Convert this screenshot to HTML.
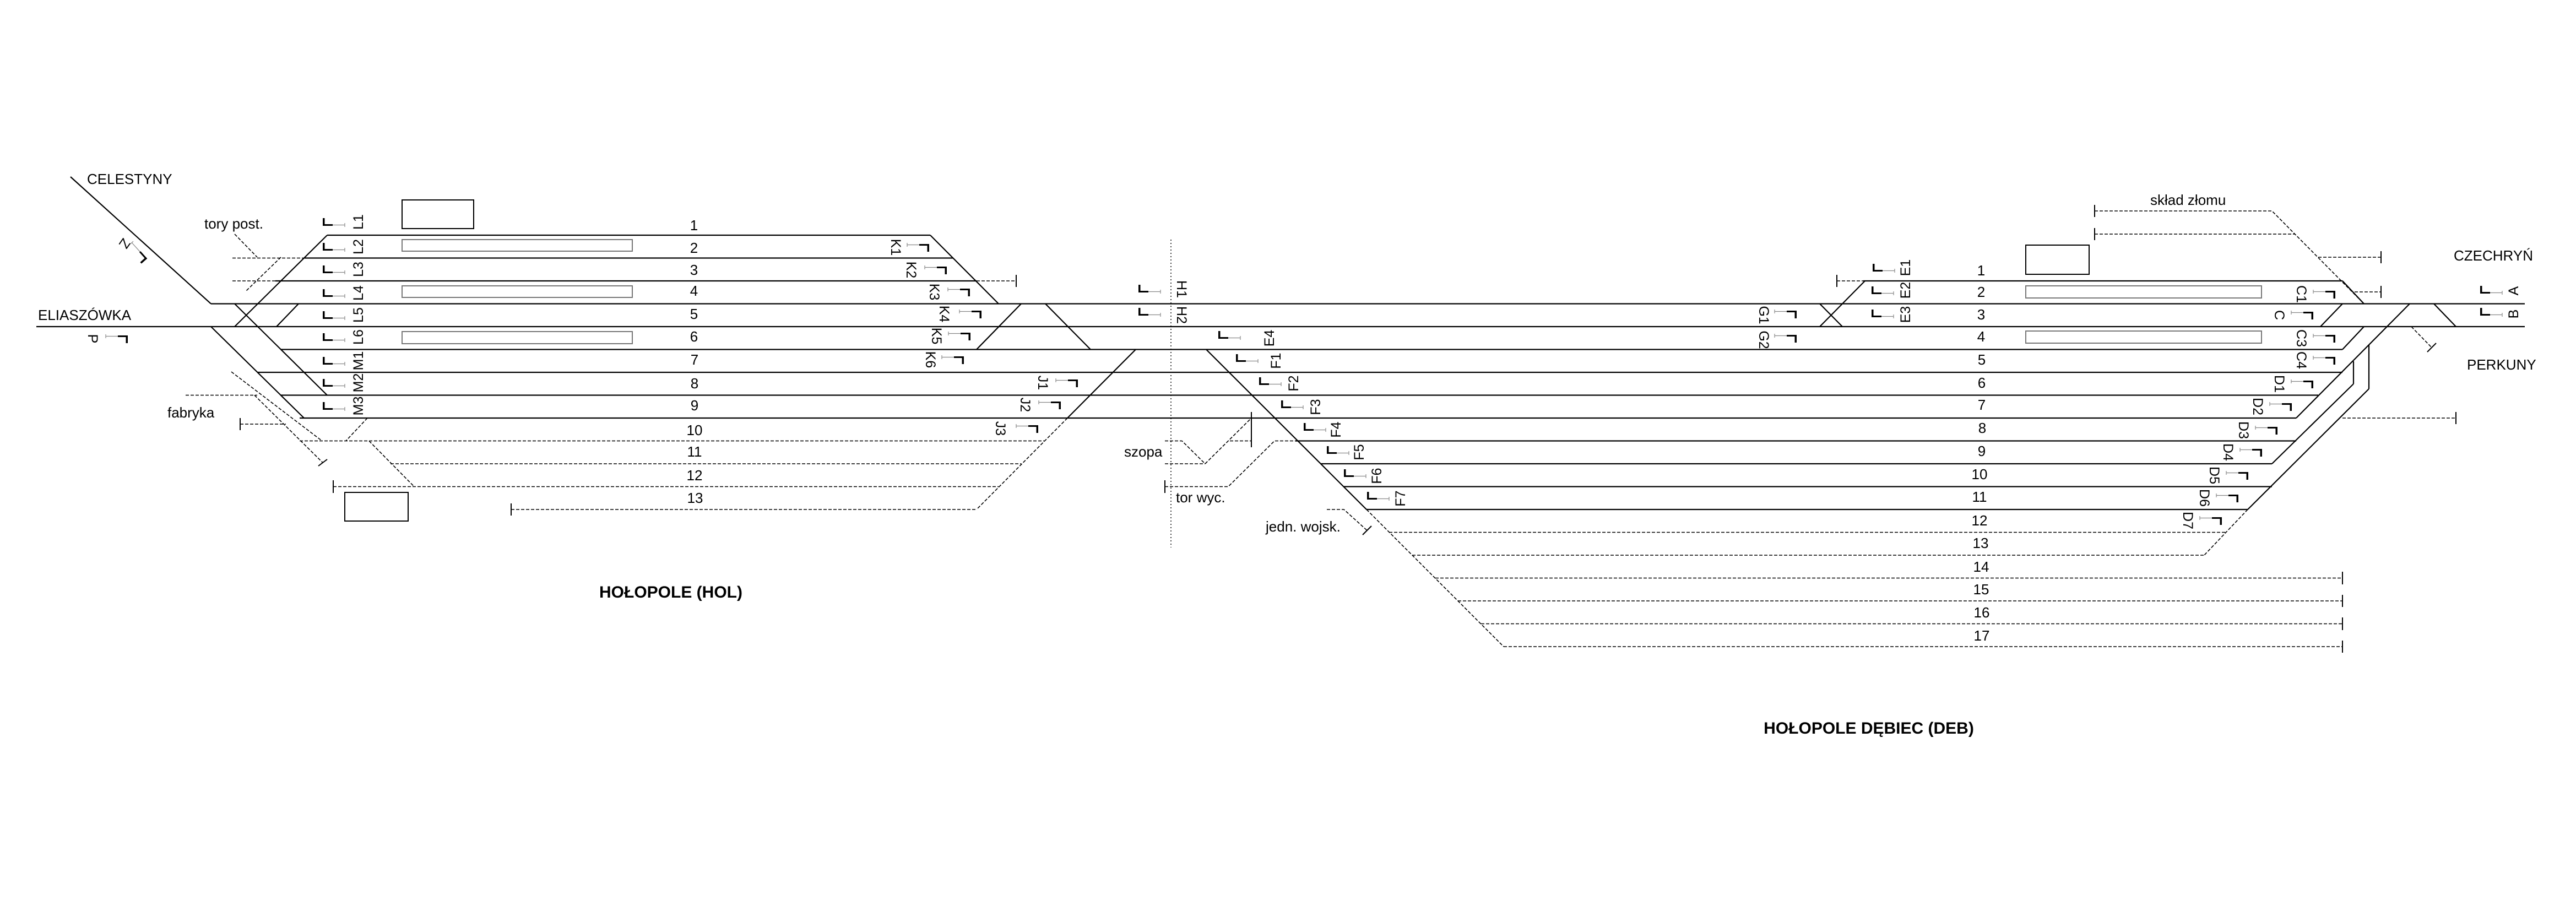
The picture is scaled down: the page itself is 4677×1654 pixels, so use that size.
<!DOCTYPE html>
<html><head><meta charset="utf-8"><style>
html,body{margin:0;padding:0;background:#fff;}
svg{display:block;}
text{font-family:"Liberation Sans",sans-serif;fill:#000;}
</style></head><body>
<svg width="4677" height="1654" viewBox="0 0 4677 1654" xmlns="http://www.w3.org/2000/svg">
<defs>
<g id="sl"><rect x="0" y="-7" width="3.5" height="14" fill="#000"/><rect x="0" y="4" width="18" height="3" fill="#000"/><line x1="18" y1="5.5" x2="40" y2="5.5" stroke="#888" stroke-width="1.2"/><line x1="40" y1="2" x2="40" y2="9" stroke="#888" stroke-width="1.2"/></g>
<g id="sr"><line x1="0" y1="-8" x2="0" y2="-1" stroke="#888" stroke-width="1.2"/><line x1="0" y1="-4.5" x2="22" y2="-4.5" stroke="#888" stroke-width="1.2"/><rect x="22" y="-6" width="18" height="3" fill="#000"/><rect x="36.5" y="-6" width="3.5" height="14" fill="#000"/></g>
</defs>

<!-- solid tracks -->
<g stroke="#000" stroke-width="2.2" fill="none">
<line x1="594" y1="427" x2="1689" y2="427"/>
<line x1="553" y1="468.5" x2="1730" y2="468.5"/>
<line x1="500" y1="510" x2="1773" y2="510"/>
<line x1="383" y1="551.5" x2="4584" y2="551.5"/>
<line x1="66" y1="593" x2="4584" y2="593"/>
<line x1="510" y1="634.5" x2="4253" y2="634.5"/>
<line x1="467" y1="676" x2="4253" y2="676"/>
<line x1="510" y1="717.5" x2="4209" y2="717.5"/>
<line x1="544" y1="759" x2="4169" y2="759"/>
<line x1="2352" y1="800.5" x2="4169" y2="800.5"/>
<line x1="2398" y1="842" x2="4125" y2="842"/>
<line x1="2440" y1="883.5" x2="4125" y2="883.5"/>
<line x1="2481" y1="925" x2="4081" y2="925"/>
<line x1="3383" y1="510" x2="4253" y2="510"/>
<!-- left diagonals -->
<line x1="128" y1="321" x2="383" y2="551.5"/>
<line x1="426" y1="593" x2="594" y2="427"/>
<line x1="426" y1="551.5" x2="594" y2="717.5"/>
<line x1="383" y1="593" x2="552" y2="759"/>
<line x1="502" y1="593" x2="542" y2="551.5"/>
<!-- HOL right throat -->
<line x1="1689" y1="427" x2="1813" y2="551.5"/>
<line x1="1854" y1="551.5" x2="1773" y2="634.5"/>
<line x1="1898" y1="551.5" x2="1980" y2="634.5"/>
<line x1="2062" y1="634.5" x2="1938" y2="759"/>
<!-- DEB left -->
<line x1="2190" y1="634.5" x2="2481" y2="925"/>
<line x1="3386" y1="510" x2="3304" y2="593"/>
<line x1="3304" y1="551.5" x2="3345" y2="593"/>
<!-- DEB right -->
<line x1="4253" y1="510" x2="4292" y2="551.5"/>
<line x1="4253" y1="551.5" x2="4213" y2="593"/>
<line x1="4253" y1="634.5" x2="4292" y2="593"/>
<line x1="4375" y1="551.5" x2="4169" y2="759"/>
<line x1="4273" y1="656" x2="4273" y2="697"/>
<line x1="4273" y1="697" x2="4125" y2="842"/>
<line x1="4301" y1="626" x2="4301" y2="706"/>
<line x1="4301" y1="706" x2="4081" y2="925"/>
<line x1="4419" y1="551.5" x2="4459" y2="593"/>
</g>

<!-- dashed -->
<g stroke="#000" stroke-width="1.6" fill="none" stroke-dasharray="6 3">
<line x1="422" y1="468.5" x2="553" y2="468.5"/>
<line x1="422" y1="510" x2="500" y2="510"/>
<line x1="1773" y1="510" x2="1845" y2="510"/>
<line x1="426" y1="425" x2="467" y2="467"/>
<line x1="510" y1="467" x2="446" y2="529"/>
<line x1="420" y1="675" x2="584" y2="800"/>
<line x1="337" y1="717.5" x2="467" y2="717.5"/>
<line x1="436" y1="770" x2="519" y2="770"/>
<line x1="462" y1="717.5" x2="586" y2="840"/>
<line x1="544" y1="800.5" x2="1896" y2="800.5"/>
<line x1="709" y1="842" x2="1854" y2="842"/>
<line x1="605" y1="883.5" x2="1813" y2="883.5"/>
<line x1="928" y1="925" x2="1773" y2="925"/>
<line x1="667" y1="759" x2="628" y2="800.5"/>
<line x1="670" y1="800.5" x2="752" y2="883.5"/>
<line x1="1938" y1="759" x2="1773" y2="925"/>
<!-- szopa / tor wyc -->
<polyline points="2115,800.5 2146,800.5 2188,842"/>
<line x1="2115" y1="842" x2="2188" y2="842"/>
<line x1="2188" y1="842" x2="2272" y2="759"/>
<line x1="2233" y1="800.5" x2="2272" y2="800.5"/>
<polyline points="2115,883.5 2230,883.5 2314,800.5 2352,800.5"/>
<polyline points="2409,925 2440,925 2482,963"/>
<line x1="2481" y1="925" x2="2730" y2="1174"/>
<line x1="2522" y1="966.5" x2="4042" y2="966.5"/>
<line x1="2564" y1="1008" x2="4002" y2="1008"/>
<line x1="2606" y1="1049.5" x2="4253" y2="1049.5"/>
<line x1="2647" y1="1091" x2="4253" y2="1091"/>
<line x1="2689" y1="1132.5" x2="4253" y2="1132.5"/>
<line x1="2730" y1="1174" x2="4253" y2="1174"/>
<line x1="4081" y1="925" x2="4002" y2="1008"/>
<line x1="3335" y1="510" x2="3383" y2="510"/>
<polyline points="3803,383 4125,383 4292,551.5"/>
<line x1="3803" y1="425" x2="4167" y2="425"/>
<line x1="4209" y1="467" x2="4323" y2="467"/>
<line x1="4275" y1="530" x2="4323" y2="530"/>
<line x1="4253" y1="759" x2="4459" y2="759"/>
<line x1="4378" y1="593" x2="4415" y2="631"/>
</g>
<line x1="2126" y1="435" x2="2126" y2="994" stroke="#000" stroke-width="1.5" stroke-dasharray="2 4"/>

<!-- bumpers -->
<g stroke="#000" stroke-width="2">
<line x1="1845" y1="499" x2="1845" y2="521"/>
<line x1="436" y1="759" x2="436" y2="781"/>
<line x1="578" y1="846" x2="594" y2="834"/>
<line x1="605" y1="872" x2="605" y2="895"/>
<line x1="928" y1="914" x2="928" y2="936"/>
<line x1="2115" y1="872" x2="2115" y2="895"/>
<line x1="2272" y1="748" x2="2272" y2="812"/>
<line x1="2474" y1="971" x2="2490" y2="955"/>
<line x1="3335" y1="499" x2="3335" y2="521"/>
<line x1="3803" y1="372" x2="3803" y2="394"/>
<line x1="3803" y1="414" x2="3803" y2="436"/>
<line x1="4323" y1="456" x2="4323" y2="478"/>
<line x1="4323" y1="519" x2="4323" y2="541"/>
<line x1="4459" y1="748" x2="4459" y2="770"/>
<line x1="4407" y1="639" x2="4423" y2="623"/>
<line x1="4253" y1="1038" x2="4253" y2="1061"/>
<line x1="4253" y1="1080" x2="4253" y2="1102"/>
<line x1="4253" y1="1121" x2="4253" y2="1144"/>
<line x1="4253" y1="1163" x2="4253" y2="1185"/>
</g>

<!-- buildings & platforms -->
<g fill="none">
<rect x="730" y="363" width="130" height="52" stroke="#000" stroke-width="2"/>
<rect x="626" y="894" width="115" height="52" stroke="#000" stroke-width="2"/>
<rect x="3678" y="445" width="115" height="53" stroke="#000" stroke-width="2"/>
<rect x="730" y="435" width="418" height="21" stroke="#777" stroke-width="2"/>
<rect x="730" y="519" width="418" height="21" stroke="#777" stroke-width="2"/>
<rect x="730" y="602" width="418" height="22" stroke="#777" stroke-width="2"/>
<rect x="3678" y="519" width="428" height="22" stroke="#777" stroke-width="2"/>
<rect x="3678" y="601" width="428" height="22" stroke="#777" stroke-width="2"/>
</g>

<!-- signals -->
<use href="#sl" x="586" y="403"/><use href="#sl" x="586" y="448"/><use href="#sl" x="586" y="489"/>
<use href="#sl" x="586" y="532"/><use href="#sl" x="586" y="572"/><use href="#sl" x="586" y="612"/>
<use href="#sl" x="586" y="655"/><use href="#sl" x="586" y="695"/><use href="#sl" x="586" y="737"/>
<use href="#sr" x="192" y="615"/>
<use href="#sr" x="1647" y="449"/><use href="#sr" x="1679" y="490"/><use href="#sr" x="1721" y="530"/>
<use href="#sr" x="1742" y="570"/><use href="#sr" x="1722" y="610"/><use href="#sr" x="1710" y="653"/>
<use href="#sr" x="1917" y="695"/><use href="#sr" x="1886" y="735"/><use href="#sr" x="1845" y="778"/>
<use href="#sl" x="2067" y="524"/><use href="#sl" x="2067" y="566"/>
<use href="#sl" x="2212" y="608"/><use href="#sl" x="2244" y="650"/><use href="#sl" x="2286" y="692"/>
<use href="#sl" x="2326" y="734"/><use href="#sl" x="2367" y="775"/><use href="#sl" x="2409" y="817"/>
<use href="#sl" x="2440" y="859"/><use href="#sl" x="2482" y="900"/>
<use href="#sr" x="3222" y="570"/><use href="#sr" x="3222" y="614"/>
<use href="#sl" x="3400" y="486"/><use href="#sl" x="3398" y="527"/><use href="#sl" x="3398" y="569"/>
<use href="#sr" x="4200" y="534"/><use href="#sr" x="4160" y="572"/><use href="#sr" x="4200" y="614"/>
<use href="#sr" x="4200" y="654"/><use href="#sr" x="4160" y="697"/><use href="#sr" x="4121" y="738"/>
<use href="#sr" x="4095" y="781"/><use href="#sr" x="4067" y="821"/><use href="#sr" x="4042" y="863"/>
<use href="#sr" x="4024" y="904"/><use href="#sr" x="3994" y="945"/>
<use href="#sl" x="4503" y="526"/><use href="#sl" x="4503" y="566"/>
<use href="#sl" x="0" y="0" transform="translate(262,474) rotate(-132)"/>

<!-- rotated labels -->
<g font-size="25" text-anchor="middle" dominant-baseline="central">
<text transform="translate(651,403) rotate(-90)">L1</text>
<text transform="translate(651,448) rotate(-90)">L2</text>
<text transform="translate(651,489) rotate(-90)">L3</text>
<text transform="translate(651,532) rotate(-90)">L4</text>
<text transform="translate(651,572) rotate(-90)">L5</text>
<text transform="translate(651,612) rotate(-90)">L6</text>
<text transform="translate(651,655) rotate(-90)">M1</text>
<text transform="translate(651,695) rotate(-90)">M2</text>
<text transform="translate(651,737) rotate(-90)">M3</text>
<text transform="translate(168,615) rotate(90)">P</text>
<text transform="translate(226,442) rotate(125)">Z</text>
<text transform="translate(1626,449) rotate(90)">K1</text>
<text transform="translate(1654,490) rotate(90)">K2</text>
<text transform="translate(1696,530) rotate(90)">K3</text>
<text transform="translate(1714,570) rotate(90)">K4</text>
<text transform="translate(1700,610) rotate(90)">K5</text>
<text transform="translate(1689,653) rotate(90)">K6</text>
<text transform="translate(1893,695) rotate(90)">J1</text>
<text transform="translate(1861,735) rotate(90)">J2</text>
<text transform="translate(1816,778) rotate(90)">J3</text>
<text transform="translate(2145,525) rotate(90)">H1</text>
<text transform="translate(2145,572) rotate(90)">H2</text>
<text transform="translate(2305,614) rotate(-90)">E4</text>
<text transform="translate(2317,655) rotate(-90)">F1</text>
<text transform="translate(2349,696) rotate(-90)">F2</text>
<text transform="translate(2389,739) rotate(-90)">F3</text>
<text transform="translate(2426,780) rotate(-90)">F4</text>
<text transform="translate(2468,821) rotate(-90)">F5</text>
<text transform="translate(2500,864) rotate(-90)">F6</text>
<text transform="translate(2543,905) rotate(-90)">F7</text>
<text transform="translate(3202,572) rotate(90)">G1</text>
<text transform="translate(3202,617) rotate(90)">G2</text>
<text transform="translate(3460,486) rotate(-90)">E1</text>
<text transform="translate(3460,527) rotate(-90)">E2</text>
<text transform="translate(3460,571) rotate(-90)">E3</text>
<text transform="translate(4178,534) rotate(90)">C1</text>
<text transform="translate(4138,572) rotate(90)">C</text>
<text transform="translate(4178,614) rotate(90)">C3</text>
<text transform="translate(4178,654) rotate(90)">C4</text>
<text transform="translate(4138,697) rotate(90)">D1</text>
<text transform="translate(4099,738) rotate(90)">D2</text>
<text transform="translate(4073,781) rotate(90)">D3</text>
<text transform="translate(4045,821) rotate(90)">D4</text>
<text transform="translate(4020,863) rotate(90)">D5</text>
<text transform="translate(4002,904) rotate(90)">D6</text>
<text transform="translate(3972,945) rotate(90)">D7</text>
<text transform="translate(4564,528) rotate(-90)">A</text>
<text transform="translate(4564,570) rotate(-90)">B</text>
</g>

<!-- track numbers -->
<g font-size="26" text-anchor="middle" dominant-baseline="central">
<text x="1260" y="409">1</text><text x="1260" y="450">2</text><text x="1260" y="490">3</text>
<text x="1260" y="528">4</text><text x="1260" y="570">5</text><text x="1260" y="611">6</text>
<text x="1261" y="653">7</text><text x="1261" y="696">8</text><text x="1261" y="736">9</text>
<text x="1261" y="781">10</text><text x="1261" y="820">11</text><text x="1261" y="863">12</text>
<text x="1262" y="904">13</text>
<text x="3597" y="491">1</text><text x="3597" y="530">2</text><text x="3597" y="571">3</text>
<text x="3597" y="611">4</text><text x="3598" y="653">5</text><text x="3598" y="695">6</text>
<text x="3598" y="735">7</text><text x="3599" y="777">8</text><text x="3598" y="819">9</text>
<text x="3594" y="861">10</text><text x="3594" y="902">11</text><text x="3594" y="945">12</text>
<text x="3596" y="986">13</text><text x="3597" y="1029">14</text><text x="3597" y="1070">15</text>
<text x="3598" y="1112">16</text><text x="3598" y="1154">17</text>
</g>

<!-- place labels -->
<g font-size="26">
<text x="158" y="334">CELESTYNY</text>
<text x="69" y="581">ELIASZÓWKA</text>
<text x="371" y="415">tory post.</text>
<text x="304" y="758">fabryka</text>
<text x="2041" y="829">szopa</text>
<text x="2135" y="912">tor wyc.</text>
<text x="2298" y="965">jedn. wojsk.</text>
<text x="3904" y="372">skład złomu</text>
<text x="4455" y="473">CZECHRYŃ</text>
<text x="4479" y="671">PERKUNY</text>
</g>
<g font-size="30" font-weight="bold" text-anchor="middle">
<text x="1218" y="1085">HOŁOPOLE (HOL)</text>
<text x="3393" y="1332">HOŁOPOLE DĘBIEC (DEB)</text>
</g>
</svg>
</body></html>
